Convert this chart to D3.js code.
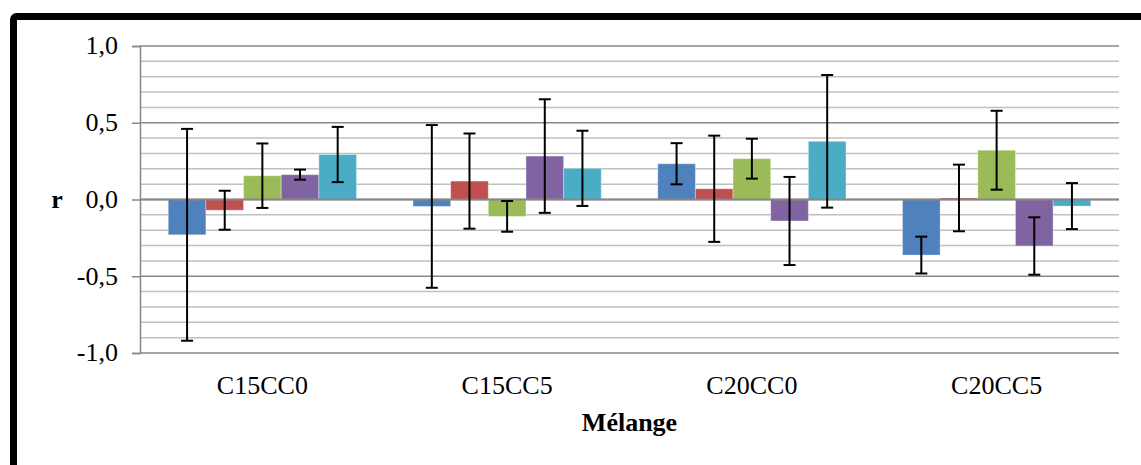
<!DOCTYPE html>
<html>
<head>
<meta charset="utf-8">
<script src="https://cdn.jsdelivr.net/npm/d3@7"></script>
<style>
  html, body { margin: 0; padding: 0; background: #fff; }
  svg { display: block; }
  text { font-family: "Liberation Serif", "Times New Roman", serif; fill: #000; }
</style>
</head>
<body>
<svg id="chart" width="1141" height="465"></svg>
<script>
// Mixes (categories) and the five series of correlation coefficients r
const categories = ["C15CC0", "C15CC5", "C20CC0", "C20CC5"];
const seriesNames = ["s1", "s2", "s3", "s4", "s5"];
const seriesColors = ["#4F81BD", "#C0504D", "#9BBB59", "#8064A2", "#4BACC6"];

// Mean r per category, one array per series
const s1 = [-0.23, -0.045, 0.233, -0.362];
const s2 = [-0.07, 0.12, 0.07, 0.01];
const s3 = [0.155, -0.11, 0.266, 0.321];
const s4 = [0.162, 0.283, -0.14, -0.303];
const s5 = [0.293, 0.203, 0.379, -0.043];

// Error-bar half widths (±) per category, one array per series
const e1 = [0.69, 0.53, 0.134, 0.12];
const e2 = [0.127, 0.31, 0.346, 0.217];
const e3 = [0.21, 0.1, 0.13, 0.257];
const e4 = [0.033, 0.37, 0.287, 0.187];
const e5 = [0.18, 0.245, 0.432, 0.15];

const yTickValues = [-1.0, -0.5, 0.0, 0.5, 1.0];
const yMinorValues = d3.range(-10, 11).map(d => d / 10);
const xTitle = "Mélange";
const yTitle = "r";

const values = [s1, s2, s3, s4, s5];
const errors = [e1, e2, e3, e4, e5];

const rows = [];
categories.forEach((c, ci) => {
  seriesNames.forEach((s, si) => {
    rows.push({ cat: c, series: s, si, value: values[si][ci], err: errors[si][ci] });
  });
});

const svg = d3.select("#chart");
const W = 1141, H = 465;
const plot = { left: 140, right: 1119, top: 46, bottom: 353 };

// Outer frame (thick black border, runs off the right and bottom edges)
svg.append("rect")
  .attr("x", 13.5).attr("y", 16.5)
  .attr("width", W + 50).attr("height", H + 50)
  .attr("rx", 3)
  .attr("fill", "#fff")
  .attr("stroke", "#000")
  .attr("stroke-width", 7);

const y = d3.scaleLinear().domain([-1, 1]).range([plot.bottom, plot.top]);
const x0 = d3.scaleBand().domain(categories).range([plot.left, plot.right]).paddingInner(0).paddingOuter(0);
const gw = x0.bandwidth();
const barW = gw / 6.5;
const x1 = d3.scaleBand().domain(seriesNames)
  .range([barW * 0.75, gw - barW * 0.75]).paddingInner(0).paddingOuter(0);

const g = svg.append("g");

// Minor gridlines every 0.1
g.append("g").selectAll("line")
  .data(yMinorValues.filter(v => Math.abs(Math.round(v * 10) % 5) !== 0))
  .join("line")
  .attr("x1", plot.left).attr("x2", plot.right)
  .attr("y1", d => y(d)).attr("y2", d => y(d))
  .attr("stroke", "#c0c0c0").attr("stroke-width", 1.5);

// Major gridlines every 0.5
g.append("g").selectAll("line")
  .data(yTickValues)
  .join("line")
  .attr("x1", plot.left).attr("x2", plot.right)
  .attr("y1", d => y(d)).attr("y2", d => y(d))
  .attr("stroke", "#878787").attr("stroke-width", 1.5);

// Y axis with ticks and labels
const yAxis = d3.axisLeft(y)
  .tickValues(yTickValues)
  .tickSize(8)
  .tickPadding(14)
  .tickFormat(d => d3.format(".1f")(d).replace(".", ",").replace("−", "-"));
const yg = svg.append("g").attr("transform", `translate(${plot.left},0)`).call(yAxis);
yg.select(".domain").attr("stroke", "#878787").attr("stroke-width", 1.5);
yg.selectAll(".tick line").attr("stroke", "#878787").attr("stroke-width", 1.5);
yg.selectAll(".tick text")
  .attr("font-family", "Liberation Serif, Times New Roman, serif")
  .attr("font-size", 26).attr("fill", "#000").attr("dy", "0.3em");

// Bars
const bars = svg.append("g");
bars.selectAll("rect")
  .data(rows)
  .join("rect")
  .attr("x", d => x0(d.cat) + x1(d.series))
  .attr("width", x1.bandwidth())
  .attr("y", d => y(Math.max(0, d.value)))
  .attr("height", d => Math.abs(y(d.value) - y(0)))
  .attr("fill", d => seriesColors[d.si])
  .attr("stroke", "rgba(255,255,255,0.35)")
  .attr("stroke-width", 1);

// Zero line (category axis)
svg.append("line")
  .attr("x1", plot.left).attr("x2", plot.right)
  .attr("y1", y(0)).attr("y2", y(0))
  .attr("stroke", "#878787").attr("stroke-width", 2);

// Error bars
const eb = svg.append("g").attr("stroke", "#000").attr("stroke-width", 2);
const cap = 6;
rows.forEach(d => {
  const cx = x0(d.cat) + x1(d.series) + x1.bandwidth() / 2;
  const yHi = y(d.value + d.err), yLo = y(d.value - d.err);
  eb.append("line").attr("x1", cx).attr("x2", cx).attr("y1", yHi).attr("y2", yLo);
  eb.append("line").attr("x1", cx - cap).attr("x2", cx + cap).attr("y1", yHi).attr("y2", yHi);
  eb.append("line").attr("x1", cx - cap).attr("x2", cx + cap).attr("y1", yLo).attr("y2", yLo);
});

// Category labels
svg.append("g").selectAll("text")
  .data(categories)
  .join("text")
  .attr("x", d => x0(d) + gw / 2)
  .attr("y", 394)
  .attr("text-anchor", "middle")
  .attr("font-size", 26)
  .text(d => d);

// Axis titles
svg.append("text")
  .attr("x", (plot.left + plot.right) / 2).attr("y", 431)
  .attr("text-anchor", "middle")
  .attr("font-size", 26).attr("font-weight", "bold")
  .text(xTitle);

svg.append("text")
  .attr("x", 57).attr("y", 208)
  .attr("text-anchor", "middle")
  .attr("font-size", 26).attr("font-weight", "bold")
  .text(yTitle);
</script>
</body>
</html>
